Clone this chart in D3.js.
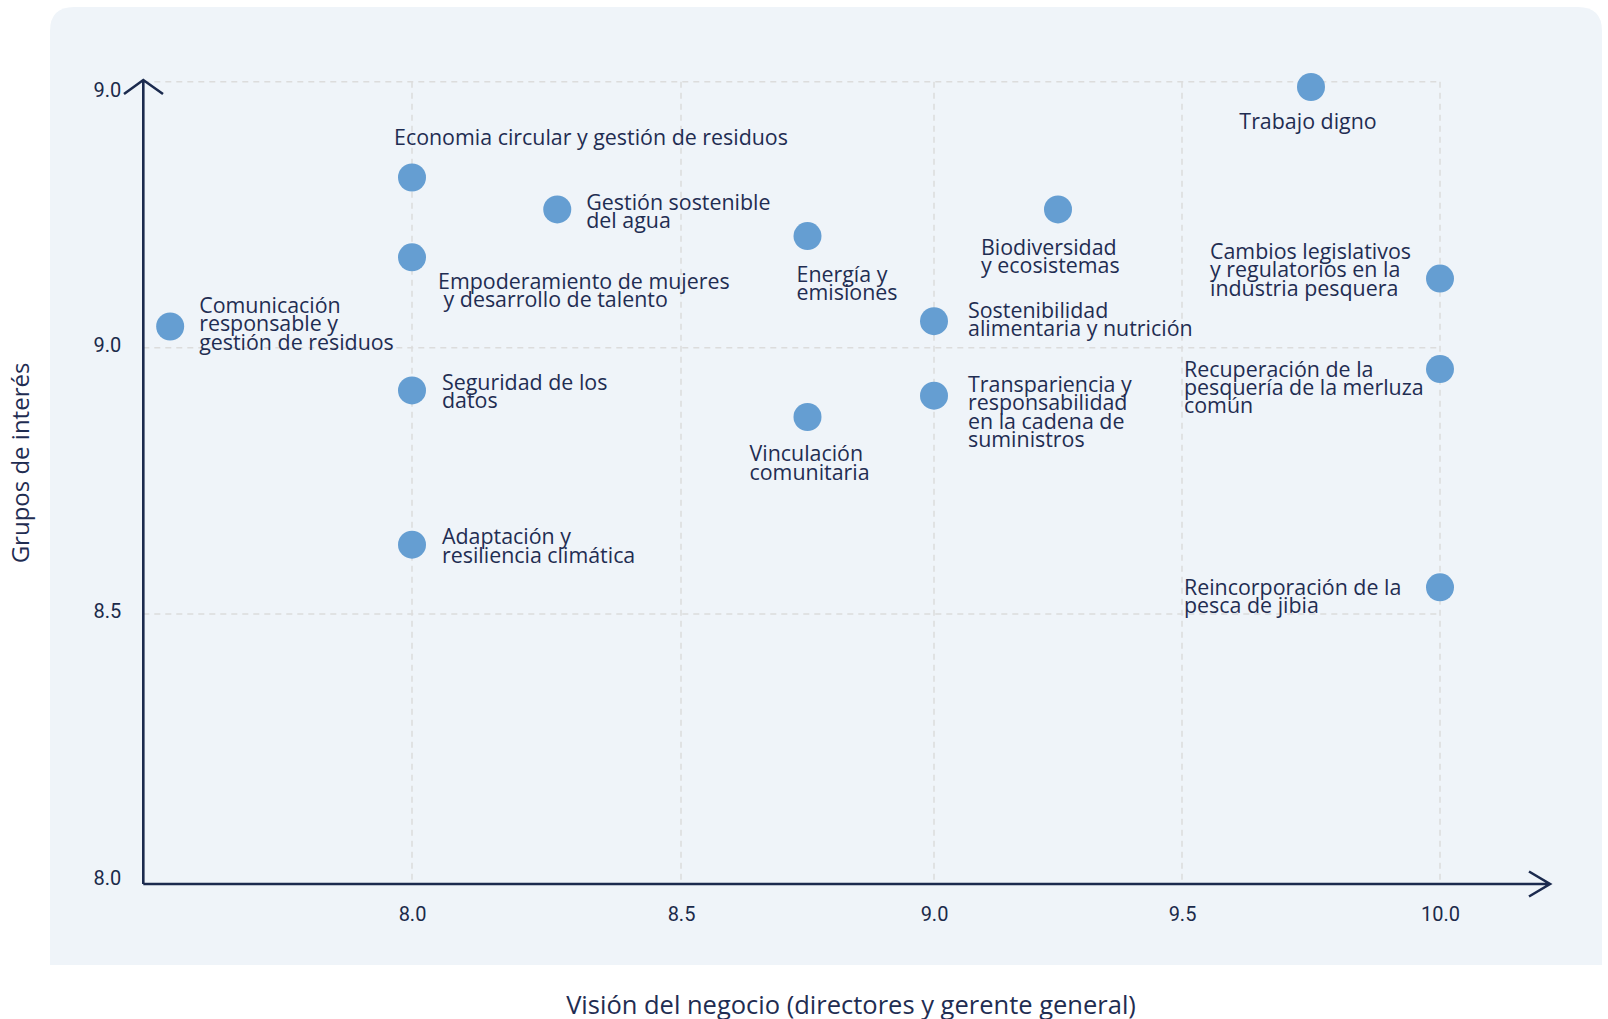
<!DOCTYPE html>
<html>
<head>
<meta charset="utf-8">
<script src="https://cdn.jsdelivr.net/npm/d3@7"></script>
<style>
  html, body { margin: 0; padding: 0; background: #ffffff; }
  svg { display: block; }
  .label { font-family: 'Open Sans', sans-serif; font-size: 21.4px; fill: #1f2d52; }
  .tick-label { font-family: Roboto, sans-serif; font-size: 20px; fill: #1b2a4a; }
  .title { font-family: 'Open Sans', sans-serif; fill: #1f2d52; }
</style>
</head>
<body>
<svg id="chart" width="1608" height="1019"></svg>
<script>
// topics, in order of the picture (top to bottom)
const topics = [
  'Trabajo digno',
  'Economia circular y gestión de residuos',
  'Gestión sostenible\ndel agua',
  'Biodiversidad\ny ecosistemas',
  'Energía y\nemisiones',
  'Empoderamiento de mujeres\n y desarrollo de talento',
  'Cambios legislativos\ny regulatorios en la\nindustria pesquera',
  'Comunicación\nresponsable y\ngestión de residuos',
  'Sostenibilidad\nalimentaria y nutrición',
  'Recuperación de la\npesquería de la merluza\ncomún',
  'Seguridad de los\ndatos',
  'Transpariencia y\nresponsabilidad\nen la cadena de\nsuministros',
  'Vinculación\ncomunitaria',
  'Adaptación y\nresiliencia climática',
  'Reincorporación de la\npesca de jibia'
]
// Visión del negocio (directores y gerente general)
const negocio = [9.75, 8.0, 8.27, 9.25, 8.75, 8.0, 10.0, 7.55, 9.0, 10.0, 8.0, 9.0, 8.75, 8.0, 10.0]
// Grupos de interés
const grupos = [9.49, 9.32, 9.26, 9.26, 9.21, 9.17, 9.13, 9.04, 9.05, 8.96, 8.92, 8.91, 8.87, 8.63, 8.55]

const xTicks = [8.0, 8.5, 9.0, 9.5, 10.0]
const xTickLabels = ['8.0', '8.5', '9.0', '9.5', '10.0']
const yTicks = [8.0, 8.5, 9.0, 9.5]
const yTickLabels = ['8.0', '8.5', '9.0', '9.0']

const xTitle = 'Visión del negocio (directores y gerente general)'
const yTitle = 'Grupos de interés'

// label placement relative to each point: [dx, dy of first line, anchor]
const labelPlacement = [
  [-3, 34, 'middle'],
  [-18, -40, 'start'],
  [29, -7, 'start'],
  [-77, 38, 'start'],
  [-11, 38, 'start'],
  [26, 24, 'start'],
  [-230, -27, 'start'],
  [29, -21, 'start'],
  [34, -11, 'start'],
  [-256, 0, 'start'],
  [30, -8, 'start'],
  [34, -11, 'start'],
  [-58, 37, 'start'],
  [30, -8, 'start'],
  [-256, 0, 'start']
]

const ink = '#1b2a4e'
const dotColor = '#659ed2'
const lineGap = 18.3
const axisX = 143.3
const axisY = 884

const svg = d3.select('#chart')

// panel: rounded only at the top
const panel = {x: 50, y: 7, w: 1552, h: 958, r: 24}
svg.append('path')
  .attr('d', `M${panel.x},${panel.y + panel.h} V${panel.y + panel.r} Q${panel.x},${panel.y} ${panel.x + panel.r},${panel.y}
    H${panel.x + panel.w - panel.r} Q${panel.x + panel.w},${panel.y} ${panel.x + panel.w},${panel.y + panel.r}
    V${panel.y + panel.h} Z`)
  .attr('fill', '#eff4f9')

// the grid lines are not evenly spaced in the original, hence a polylinear scale
const x = d3.scaleLinear()
  .domain([7.5, 8.0, 8.5, 9.0, 9.5, 10.0])
  .range([axisX, 412, 681, 934, 1182, 1440])
const y = d3.scaleLinear()
  .domain([8.0, 9.5])
  .range([880, 81.7])

const grid = svg.append('g').attr('class', 'grid')
  .attr('stroke', '#dcdcdc').attr('stroke-width', 1.5).attr('stroke-dasharray', '6,5')
grid.selectAll('.vgrid').data(xTicks).join('line')
  .attr('class', 'vgrid')
  .attr('x1', d => x(d)).attr('x2', d => x(d))
  .attr('y1', y(9.5)).attr('y2', axisY)
grid.selectAll('.hgrid').data(yTicks.filter(d => d > 8)).join('line')
  .attr('class', 'hgrid')
  .attr('x1', axisX).attr('x2', x(10))
  .attr('y1', d => y(d)).attr('y2', d => y(d))

// tick labels through d3 axes, lines hidden
const xAxis = svg.append('g')
  .attr('transform', `translate(0,${axisY})`)
  .call(d3.axisBottom(x).tickValues(xTicks).tickSize(0).tickPadding(23)
    .tickFormat((d, i) => xTickLabels[i]))
const yAxis = svg.append('g')
  .attr('transform', `translate(${axisX - 22},0)`)
  .call(d3.axisLeft(y).tickValues(yTicks).tickSize(0).tickPadding(0)
    .tickFormat((d, i) => yTickLabels[i]))
;[xAxis, yAxis].forEach(a => {
  a.select('.domain').remove()
  a.selectAll('text').attr('class', 'tick-label').attr('fill', null).attr('font-size', null).attr('font-family', null)
})
xAxis.selectAll('text').attr('dy', '0.71em')
yAxis.selectAll('text').attr('dy', (d, i) => i === yTicks.length - 1 ? '0.75em' : '0.2em')

// axis lines with open arrows
const axes = svg.append('g').attr('fill', 'none').attr('stroke', ink).attr('stroke-width', 2.6)
axes.append('path').attr('d', `M${axisX},${axisY} V80 M124,94 L${axisX},80 L163,94`)
axes.append('path').attr('d', `M${axisX},${axisY} H1550 M1529,871.5 L1550,${axisY} L1529,896.5`)

// points
const data = topics.map((t, i) => ({topic: t, negocio: negocio[i], grupos: grupos[i], place: labelPlacement[i]}))

svg.append('g').selectAll('circle').data(data).join('circle')
  .attr('cx', d => x(d.negocio))
  .attr('cy', d => y(d.grupos))
  .attr('r', 14)
  .attr('fill', dotColor)

const labels = svg.append('g').selectAll('text').data(data).join('text')
  .attr('class', 'label')
  .attr('text-anchor', d => d.place[2])
  .attr('x', d => x(d.negocio) + d.place[0])
  .attr('y', d => y(d.grupos) + d.place[1])
labels.selectAll('tspan').data(d => d.topic.split('\n').map(line => ({line, d}))).join('tspan')
  .attr('x', o => x(o.d.negocio) + o.d.place[0])
  .attr('dy', (o, i) => i === 0 ? '0.35em' : lineGap)
  .attr('xml:space', 'preserve')
  .style('white-space', 'pre')
  .text(o => o.line)

// axis titles
svg.append('text').attr('class', 'title')
  .attr('font-size', 25.5)
  .attr('text-anchor', 'middle')
  .attr('x', 851).attr('y', 1005).attr('dy', '0.35em')
  .text(xTitle)
svg.append('text').attr('class', 'title')
  .attr('font-size', 24)
  .attr('text-anchor', 'middle')
  .attr('transform', 'translate(21,463) rotate(-90)')
  .attr('dy', '0.35em')
  .text(yTitle)
</script>
</body>
</html>
